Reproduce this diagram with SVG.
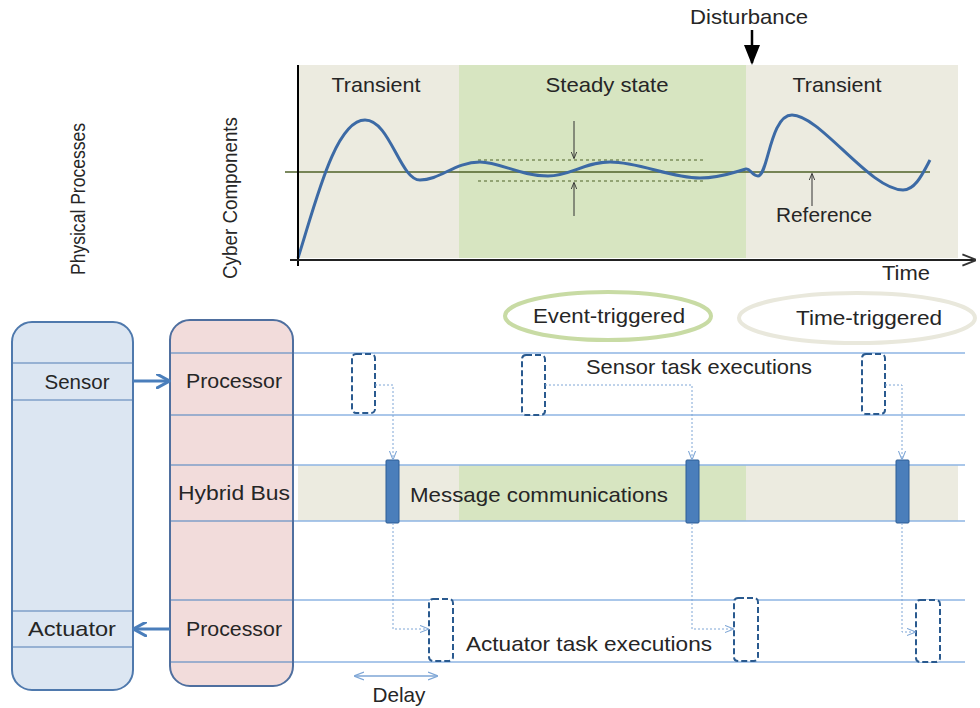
<svg xmlns="http://www.w3.org/2000/svg" width="980" height="708" viewBox="0 0 980 708">
<defs>
<style>
text{font-family:"Liberation Sans",Arial,sans-serif;fill:#262626;font-size:21px}
.vt{font-size:20px}
.tl{stroke:#8eb4e3;stroke-width:1.3;fill:none}
.task{fill:#fff;stroke:#2a5a8f;stroke-width:2;stroke-dasharray:6,3}
.bar{fill:#4a7ebb;stroke:#2c5d95;stroke-width:1}
.dot{fill:none;stroke:#7ea6d6;stroke-width:1;stroke-dasharray:2,2}
.band{stroke:#7f9fc8;stroke-width:1.3}
</style>
<marker id="blk" viewBox="0 0 10 10" refX="9" refY="5" markerWidth="8" markerHeight="8" orient="auto"><path d="M0,1 L10,5 L0,9 z" fill="#000"/></marker>
<marker id="thin" viewBox="0 0 10 10" refX="9" refY="5" markerWidth="7" markerHeight="7" orient="auto"><path d="M0,1 L10,5 L0,9" fill="none" stroke="#333" stroke-width="1.3"/></marker>
<marker id="tiny" viewBox="0 0 10 10" refX="9" refY="5" markerWidth="9" markerHeight="9" orient="auto" markerUnits="userSpaceOnUse"><path d="M0,1 L10,5 L0,9" fill="none" stroke="#7ea6d6" stroke-width="1.2"/></marker>
<marker id="blue" viewBox="0 0 10 10" refX="8" refY="5" markerWidth="5" markerHeight="5" orient="auto"><path d="M0,0 L9,5 L0,10" fill="none" stroke="#4a7ebb" stroke-width="2"/></marker>
<marker id="dl" viewBox="0 0 10 10" refX="9" refY="5" markerWidth="10" markerHeight="10" orient="auto-start-reverse" markerUnits="userSpaceOnUse"><path d="M0,1 L10,5 L0,9" fill="none" stroke="#7ea6d6" stroke-width="1.3"/></marker>
</defs>
<rect width="980" height="708" fill="#fff"/>

<g id="chart">
<rect x="298" y="65" width="161" height="193" fill="#ecebe0"/>
<rect x="459" y="65" width="287" height="193" fill="#d7e5c1"/>
<rect x="746" y="65" width="212" height="193" fill="#ecebe0"/>
<text x="376" y="92" text-anchor="middle" textLength="89" lengthAdjust="spacingAndGlyphs">Transient</text>
<text x="607" y="92" text-anchor="middle" textLength="123" lengthAdjust="spacingAndGlyphs">Steady state</text>
<text x="837" y="92" text-anchor="middle" textLength="89" lengthAdjust="spacingAndGlyphs">Transient</text>
<line x1="285" y1="172" x2="930" y2="172" stroke="#4f6228" stroke-width="1.5"/>
<line x1="478" y1="160" x2="703" y2="160" stroke="#4f6228" stroke-width="1.2" stroke-dasharray="3,3"/>
<line x1="478" y1="181" x2="703" y2="181" stroke="#4f6228" stroke-width="1.2" stroke-dasharray="3,3"/>
<line x1="574" y1="121" x2="574" y2="158" stroke="#333" stroke-width="1" marker-end="url(#thin)"/>
<line x1="574" y1="216" x2="574" y2="183" stroke="#333" stroke-width="1" marker-end="url(#thin)"/>
<path d="M298,258 C315,205 335,120 365,120 C390,120 400,180 420,180 C440,180 455,162 480,162 C500,162 520,176 548,176 C570,176 585,162 610,162 C640,162 670,178 700,178 C720,178 735,172 746,169 C750,168 752,176 758,176 C768,176 770,115 792,115 C820,115 870,190 903,190 C915,190 922,175 930,160" fill="none" stroke="#3c6aa5" stroke-width="3"/>
<line x1="298" y1="65" x2="298" y2="266" stroke="#000" stroke-width="2"/>
<line x1="290" y1="260" x2="975" y2="260" stroke="#222" stroke-width="2" marker-end="url(#thin)"/>
<line x1="812" y1="206" x2="812" y2="174" stroke="#333" stroke-width="1" marker-end="url(#thin)"/>
<text x="824" y="222" text-anchor="middle" textLength="96" lengthAdjust="spacingAndGlyphs">Reference</text>
<text x="906" y="280" text-anchor="middle" textLength="48" lengthAdjust="spacingAndGlyphs">Time</text>
<text x="749" y="24" text-anchor="middle" textLength="118" lengthAdjust="spacingAndGlyphs">Disturbance</text>
<line x1="752" y1="30" x2="752" y2="63" stroke="#000" stroke-width="2.5" marker-end="url(#blk)"/>
</g>

<g id="event-triggered">
<ellipse cx="608" cy="316" rx="103" ry="24" fill="#fff" stroke="#c8dba4" stroke-width="4"/>
<text x="609" y="323" text-anchor="middle" textLength="152" lengthAdjust="spacingAndGlyphs">Event-triggered</text>
</g>
<g id="time-triggered">
<ellipse cx="857" cy="318" rx="118" ry="25" fill="#fff" stroke="#e9e8dc" stroke-width="4"/>
<text x="869" y="325" text-anchor="middle" textLength="146" lengthAdjust="spacingAndGlyphs">Time-triggered</text>
</g>

<g id="bus-band">
<rect x="298" y="465" width="161" height="56" fill="#ecebe0"/>
<rect x="459" y="465" width="287" height="56" fill="#d7e5c1"/>
<rect x="746" y="465" width="212" height="56" fill="#ecebe0"/>
</g>

<g id="timelines">
<line class="tl" x1="293" y1="353" x2="965" y2="353"/>
<line class="tl" x1="293" y1="415" x2="965" y2="415"/>
<line class="tl" x1="293" y1="465" x2="965" y2="465"/>
<line class="tl" x1="293" y1="521" x2="965" y2="521"/>
<line class="tl" x1="293" y1="600" x2="965" y2="600"/>
<line class="tl" x1="293" y1="662" x2="965" y2="662"/>
</g>

<g id="physical">
<text class="vt" transform="translate(85,199) rotate(-90)" text-anchor="middle" textLength="152" lengthAdjust="spacingAndGlyphs">Physical Processes</text>
<rect x="12" y="322" width="121" height="368" rx="20" fill="#dce6f2" stroke="#4f79ad" stroke-width="2"/>
<line class="band" x1="13" y1="363" x2="132" y2="363"/>
<line class="band" x1="13" y1="400" x2="132" y2="400"/>
<line class="band" x1="13" y1="611" x2="132" y2="611"/>
<line class="band" x1="13" y1="647" x2="132" y2="647"/>
<text x="77" y="389" text-anchor="middle" textLength="65" lengthAdjust="spacingAndGlyphs">Sensor</text>
<text x="72" y="636" text-anchor="middle" textLength="88" lengthAdjust="spacingAndGlyphs">Actuator</text>
</g>

<g id="cyber">
<text class="vt" transform="translate(237,198) rotate(-90)" text-anchor="middle" textLength="162" lengthAdjust="spacingAndGlyphs">Cyber Components</text>
<rect x="170" y="320" width="123" height="366" rx="20" fill="#f2dcdb" stroke="#4f6f9f" stroke-width="2"/>
<line class="band" x1="171" y1="353" x2="292" y2="353"/>
<line class="band" x1="171" y1="415" x2="292" y2="415"/>
<line class="band" x1="171" y1="465" x2="292" y2="465"/>
<line class="band" x1="171" y1="521" x2="292" y2="521"/>
<line class="band" x1="171" y1="600" x2="292" y2="600"/>
<line class="band" x1="171" y1="662" x2="292" y2="662"/>
<text x="234" y="388" text-anchor="middle" textLength="96" lengthAdjust="spacingAndGlyphs">Processor</text>
<text x="234" y="500" text-anchor="middle" textLength="112" lengthAdjust="spacingAndGlyphs">Hybrid  Bus</text>
<text x="234" y="636" text-anchor="middle" textLength="96" lengthAdjust="spacingAndGlyphs">Processor</text>
</g>

<g id="tasks">
<rect class="task" x="352" y="354" width="23" height="59" rx="4"/>
<rect class="task" x="522" y="355" width="23" height="60" rx="4"/>
<rect class="task" x="862" y="354" width="23" height="60" rx="4"/>
<rect class="bar" x="386" y="460" width="13" height="63" rx="1"/>
<rect class="bar" x="686" y="460" width="13" height="63" rx="1"/>
<rect class="bar" x="896" y="460" width="13" height="63" rx="1"/>
<rect class="task" x="429" y="599" width="24" height="62" rx="4"/>
<rect class="task" x="734" y="598" width="24" height="63" rx="4"/>
<rect class="task" x="916" y="600" width="24" height="62" rx="4"/>
<text x="699" y="374" text-anchor="middle" textLength="226" lengthAdjust="spacingAndGlyphs">Sensor task executions</text>
<text x="539" y="502" text-anchor="middle" textLength="258" lengthAdjust="spacingAndGlyphs">Message communications</text>
<text x="589" y="651" text-anchor="middle" textLength="246" lengthAdjust="spacingAndGlyphs">Actuator task executions</text>
</g>

<g id="connectors">
<line x1="133" y1="381" x2="168" y2="381" stroke="#4a7ebb" stroke-width="3" marker-end="url(#blue)"/>
<line x1="170" y1="629" x2="135" y2="629" stroke="#4a7ebb" stroke-width="3" marker-end="url(#blue)"/>
<path class="dot" d="M375,385 H393 V459" marker-end="url(#tiny)"/>
<path class="dot" d="M545,385 H692 V459" marker-end="url(#tiny)"/>
<path class="dot" d="M885,385 H902 V459" marker-end="url(#tiny)"/>
<path class="dot" d="M393,523 V629 H428" marker-end="url(#tiny)"/>
<path class="dot" d="M692,523 V629 H733" marker-end="url(#tiny)"/>
<path class="dot" d="M902,523 V632 H915" marker-end="url(#tiny)"/>
<line x1="355" y1="676" x2="437" y2="676" stroke="#7ea6d6" stroke-width="1.3" marker-start="url(#dl)" marker-end="url(#dl)"/>
<text x="399" y="702" text-anchor="middle" textLength="53" lengthAdjust="spacingAndGlyphs">Delay</text>
</g>
</svg>
